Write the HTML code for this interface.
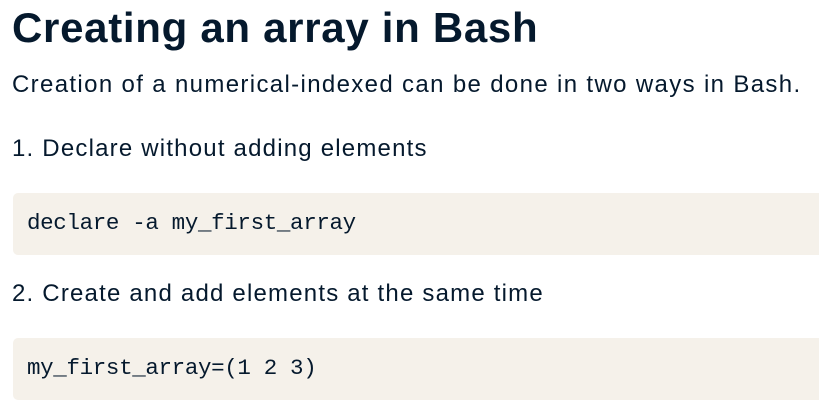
<!DOCTYPE html>
<html><head><style>
html,body{margin:0;padding:0;background:#fff;width:819px;height:414px;overflow:hidden}
body{font-family:"Liberation Sans",sans-serif;color:#05192d;position:relative}
.t{position:absolute;left:12px;white-space:nowrap}
.h{top:4px;font-size:42px;font-weight:bold;letter-spacing:0.7px}
.s{top:71px;font-size:24px;letter-spacing:1.35px}
.p{font-size:24px;letter-spacing:1.2px}
.box{position:absolute;left:13px;width:815px;height:62px;background:#f5f1ea;border-radius:5px}
.code{position:absolute;left:27px;font-family:"Liberation Mono",monospace;font-size:22.5px;white-space:nowrap;letter-spacing:-0.35px}
</style></head><body>
<div class="t h">Creating an array in Bash</div>
<div class="t s">Creation of a numerical-indexed can be done in two ways in Bash.</div>
<div class="t p" style="top:135px">1. Declare without adding elements</div>
<div class="box" style="top:193px"></div>
<div class="code" style="top:210px">declare -a my_first_array</div>
<div class="t p" style="top:280px">2. Create and add elements at the same time</div>
<div class="box" style="top:338px"></div>
<div class="code" style="top:355px">my_first_array=(1 2 3)</div>
</body></html>
